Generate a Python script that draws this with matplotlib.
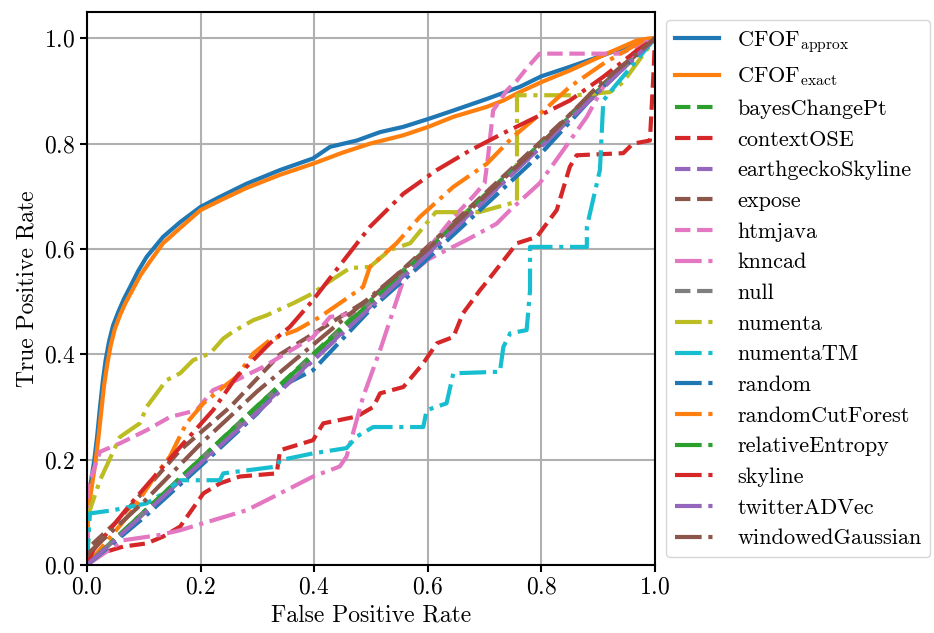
import matplotlib
matplotlib.use("Agg")
import matplotlib.pyplot as plt

plt.rcParams['font.family'] = 'serif'
plt.rcParams['font.serif'] = ['cmr10']
plt.rcParams['mathtext.fontset'] = 'cm'
plt.rcParams['axes.formatter.use_mathtext'] = True
plt.rcParams['font.size'] = 17

# ROC curves (false positive rate, true positive rate)
fpr_cfof_approx = [0.0, 0.001, 0.004, 0.008, 0.013, 0.018, 0.023, 0.028, 0.033, 0.039, 0.046, 0.055, 0.065,
                   0.076, 0.090, 0.105, 0.134, 0.164, 0.200, 0.234, 0.281, 0.340, 0.398, 0.428, 0.475, 0.516,
                   0.557, 0.601, 0.645, 0.704, 0.762, 0.800, 0.850, 0.909, 0.956, 0.991, 1.0]
tpr_cfof_approx = [0.0, 0.10, 0.136, 0.165, 0.20, 0.245, 0.30, 0.35, 0.39, 0.425, 0.455, 0.48, 0.505,
                   0.528, 0.558, 0.585, 0.623, 0.651, 0.680, 0.699, 0.724, 0.750, 0.772, 0.794, 0.806, 0.822,
                   0.832, 0.847, 0.863, 0.885, 0.908, 0.928, 0.946, 0.968, 0.987, 0.999, 1.0]
fpr_cfof_exact = [0.0, 0.002, 0.006, 0.010, 0.015, 0.020, 0.025, 0.030, 0.036, 0.042, 0.049, 0.058, 0.068,
                  0.080, 0.094, 0.110, 0.134, 0.164, 0.200, 0.234, 0.281, 0.340, 0.398, 0.450, 0.498, 0.557,
                  0.601, 0.645, 0.704, 0.733, 0.762, 0.800, 0.850, 0.909, 0.968, 0.991, 1.0]
tpr_cfof_exact = [0.0, 0.09, 0.13, 0.16, 0.195, 0.24, 0.29, 0.34, 0.383, 0.418, 0.448, 0.474, 0.498,
                  0.522, 0.550, 0.575, 0.611, 0.640, 0.674, 0.692, 0.716, 0.741, 0.762, 0.783, 0.800, 0.816,
                  0.832, 0.851, 0.870, 0.882, 0.898, 0.917, 0.939, 0.968, 0.996, 1.0, 1.0]

fpr_bayes = [0.0, 0.25, 0.5, 0.75, 1.0]
tpr_bayes = [0.0, 0.252, 0.503, 0.752, 1.0]

fpr_context = [0.0, 0.023, 0.064, 0.105, 0.134, 0.164, 0.205, 0.234, 0.269, 0.334, 0.340, 0.398, 0.416, 0.475,
               0.504, 0.516, 0.557, 0.592, 0.616, 0.645, 0.662, 0.692, 0.704, 0.757, 0.792, 0.827, 0.850,
               0.862, 0.944, 0.961, 0.991, 0.997, 1.0]
tpr_context = [0.015, 0.022, 0.035, 0.041, 0.054, 0.073, 0.136, 0.155, 0.168, 0.174, 0.218, 0.237, 0.269, 0.282,
               0.300, 0.326, 0.338, 0.383, 0.421, 0.433, 0.478, 0.522, 0.538, 0.611, 0.623, 0.674, 0.756,
               0.778, 0.782, 0.800, 0.806, 0.927, 1.0]

fpr_earthgecko = [0.0, 0.2, 0.4, 0.6, 0.8, 1.0]
tpr_earthgecko = [0.0, 0.195, 0.392, 0.592, 0.795, 1.0]

fpr_expose = [0.0, 0.005, 0.05, 0.10, 0.164, 0.252, 0.340, 0.428, 0.504, 0.60, 0.70, 0.80, 0.90, 1.0]
tpr_expose = [0.0, 0.035, 0.08, 0.14, 0.218, 0.300, 0.400, 0.459, 0.510, 0.605, 0.705, 0.805, 0.905, 1.0]

fpr_htmjava = [0.0, 0.002, 0.023, 0.058, 0.105, 0.146, 0.193, 0.222, 0.263, 0.310, 0.369, 0.398, 0.428, 0.469,
               0.504, 0.55, 0.60, 0.645, 0.680, 0.700, 0.706, 0.715, 0.739, 0.757, 0.774, 0.797, 0.938, 1.0]
tpr_htmjava = [0.0, 0.15, 0.215, 0.231, 0.256, 0.281, 0.294, 0.332, 0.351, 0.376, 0.414, 0.433, 0.471, 0.478,
               0.497, 0.55, 0.60, 0.66, 0.70, 0.725, 0.775, 0.863, 0.901, 0.920, 0.943, 0.971, 0.971, 1.0]

fpr_knncad = [0.0, 0.064, 0.128, 0.164, 0.222, 0.281, 0.340, 0.398, 0.445, 0.457, 0.486, 0.516, 0.557, 0.60,
              0.668, 0.721, 0.745, 0.797, 0.838, 0.880, 0.909, 0.968, 1.0]
tpr_knncad = [0.0, 0.047, 0.057, 0.066, 0.085, 0.104, 0.136, 0.168, 0.187, 0.206, 0.319, 0.408, 0.541, 0.58,
              0.617, 0.648, 0.674, 0.725, 0.787, 0.851, 0.908, 0.977, 1.0]

fpr_null = [0.0, 1.0]
tpr_null = [0.0, 1.0]

fpr_numenta = [0.0, 0.005, 0.023, 0.058, 0.093, 0.105, 0.140, 0.164, 0.187, 0.217, 0.240, 0.257, 0.293, 0.316,
               0.363, 0.398, 0.422, 0.463, 0.498, 0.533, 0.569, 0.614, 0.690, 0.757, 0.757, 0.862, 0.921,
               0.944, 1.0]
tpr_numenta = [0.0, 0.104, 0.161, 0.243, 0.269, 0.300, 0.351, 0.364, 0.389, 0.402, 0.430, 0.443, 0.465, 0.474,
               0.497, 0.516, 0.535, 0.564, 0.566, 0.598, 0.611, 0.670, 0.670, 0.690, 0.892, 0.892, 0.898,
               0.917, 1.0]

fpr_numentatm = [0.0, 0.005, 0.046, 0.105, 0.134, 0.164, 0.234, 0.240, 0.334, 0.340, 0.398, 0.457, 0.475, 0.504,
                 0.592, 0.598, 0.633, 0.645, 0.727, 0.733, 0.745, 0.774, 0.780, 0.780, 0.880, 0.880, 0.903,
                 0.909, 0.93, 1.0]
tpr_numentatm = [0.0, 0.098, 0.104, 0.117, 0.136, 0.161, 0.161, 0.174, 0.187, 0.199, 0.212, 0.222, 0.244, 0.262,
                 0.262, 0.294, 0.307, 0.364, 0.367, 0.414, 0.440, 0.446, 0.522, 0.604, 0.604, 0.642, 0.750,
                 0.882, 0.91, 1.0]

fpr_random = [0.0, 0.10, 0.20, 0.30, 0.340, 0.398, 0.498, 0.60, 0.70, 0.80, 0.90, 1.0]
tpr_random = [0.0, 0.09, 0.188, 0.288, 0.338, 0.370, 0.484, 0.582, 0.682, 0.782, 0.900, 1.0]

fpr_rcf = [0.0, 0.076, 0.123, 0.146, 0.175, 0.205, 0.240, 0.263, 0.293, 0.322, 0.369, 0.410, 0.445, 0.486,
           0.498, 0.545, 0.586, 0.645, 0.704, 0.750, 0.792, 0.850, 0.909, 0.979, 1.0]
tpr_rcf = [0.0, 0.098, 0.174, 0.206, 0.269, 0.307, 0.338, 0.357, 0.402, 0.427, 0.446, 0.471, 0.497, 0.528,
           0.566, 0.611, 0.661, 0.718, 0.762, 0.813, 0.851, 0.908, 0.952, 0.996, 1.0]

fpr_relentropy = [0.0, 0.3, 0.6, 1.0]
tpr_relentropy = [0.0, 0.302, 0.598, 1.0]

fpr_skyline = [0.0, 0.011, 0.08, 0.164, 0.222, 0.263, 0.322, 0.357, 0.398, 0.428, 0.498, 0.557, 0.616, 0.674,
               0.733, 0.792, 0.850, 0.909, 0.968, 1.0]
tpr_skyline = [0.0, 0.028, 0.12, 0.224, 0.294, 0.357, 0.421, 0.452, 0.503, 0.545, 0.642, 0.705, 0.750, 0.787,
               0.820, 0.851, 0.882, 0.927, 0.977, 1.0]

fpr_twitter = [0.0, 0.3, 0.6, 1.0]
tpr_twitter = [0.0, 0.29, 0.59, 1.0]

fpr_windowed = [0.0, 0.05, 0.10, 0.20, 0.30, 0.40, 0.50, 0.60, 0.70, 0.80, 0.90, 1.0]
tpr_windowed = [0.02, 0.07, 0.12, 0.23, 0.33, 0.42, 0.51, 0.60, 0.70, 0.80, 0.91, 1.0]

labels = [r'CFOF$_{\rm approx}$', r'CFOF$_{\rm exact}$', 'bayesChangePt', 'contextOSE', 'earthgeckoSkyline',
          'expose', 'htmjava', 'knncad', 'null', 'numenta', 'numentaTM', 'random', 'randomCutForest',
          'relativeEntropy', 'skyline', 'twitterADVec', 'windowedGaussian']

curves = [
    (fpr_cfof_approx, tpr_cfof_approx, 'C0', '-'),
    (fpr_cfof_exact, tpr_cfof_exact, 'C1', '-'),
    (fpr_bayes, tpr_bayes, 'C2', '--'),
    (fpr_context, tpr_context, 'C3', '--'),
    (fpr_earthgecko, tpr_earthgecko, 'C4', '--'),
    (fpr_expose, tpr_expose, 'C5', '--'),
    (fpr_htmjava, tpr_htmjava, 'C6', '--'),
    (fpr_knncad, tpr_knncad, 'C6', '-.'),
    (fpr_null, tpr_null, 'C7', '--'),
    (fpr_numenta, tpr_numenta, 'C8', '-.'),
    (fpr_numentatm, tpr_numentatm, 'C9', '-.'),
    (fpr_random, tpr_random, 'C0', '-.'),
    (fpr_rcf, tpr_rcf, 'C1', '-.'),
    (fpr_relentropy, tpr_relentropy, 'C2', '-.'),
    (fpr_skyline, tpr_skyline, 'C3', '-.'),
    (fpr_twitter, tpr_twitter, 'C4', '-.'),
    (fpr_windowed, tpr_windowed, 'C5', '-.'),
]

fig = plt.figure(figsize=(9.34, 6.33), dpi=100)
ax = fig.add_axes([0.0931, 0.1074, 0.6082, 0.8736])

for (x, y, c, ls), lab in zip(curves, labels):
    ax.plot(x, y, color=c, linestyle=ls, linewidth=3, label=lab)

ax.set_xlim(0, 1)
ax.set_ylim(0, 1.05)
ax.set_xticks([0, 0.2, 0.4, 0.6, 0.8, 1.0])
ax.set_yticks([0, 0.2, 0.4, 0.6, 0.8, 1.0])
ax.grid(True, color='#b0b0b0', linewidth=1.5)
ax.set_axisbelow(True)
for s in ax.spines.values():
    s.set_linewidth(1.5)
ax.tick_params(width=1.5, length=5)
ax.set_xlabel('False Positive Rate')
ax.set_ylabel('True Positive Rate')
ax.legend(loc='center left', bbox_to_anchor=(1.0, 0.5), fontsize=16)

fig.savefig('out.png', dpi=100)
